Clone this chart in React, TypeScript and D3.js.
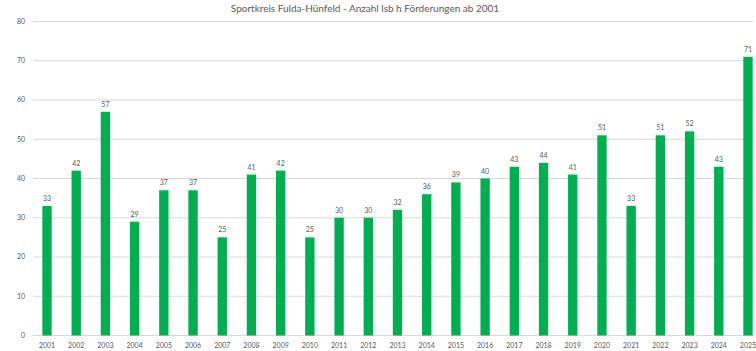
import * as React from 'react'
import { useEffect, useRef } from 'react'
import * as d3 from 'd3'

const years = [
  '2001', '2002', '2003', '2004', '2005', '2006', '2007', '2008', '2009', '2010',
  '2011', '2012', '2013', '2014', '2015', '2016', '2017', '2018', '2019', '2020',
  '2021', '2022', '2023', '2024', '2025',
]
const counts = [33, 42, 57, 29, 37, 37, 25, 41, 42, 25, 30, 30, 32, 36, 39, 40, 43, 44, 41, 51, 33, 51, 52, 43, 71]
const yTicks = [0, 10, 20, 30, 40, 50, 60, 70, 80]
const title = 'Sportkreis Fulda-Hünfeld - Anzahl lsb h Förderungen ab 2001'

const W = 756
const H = 351

export default function App() {
  const svgRef = useRef<SVGSVGElement>(null)

  useEffect(() => {
    if (!svgRef.current) return
    const svg = d3.select(svgRef.current)
    svg.selectAll('*').remove()

    const font = 'Lato, "Open Sans", sans-serif'
    const textColor = '#595959'

    const x = d3.scaleBand<string>()
      .domain(years)
      .range([32.4, 762.6])
      .paddingInner(0.68)
      .paddingOuter(0.34)

    const y = d3.scaleLinear().domain([0, 80]).range([335.5, 21.5])

    // gridlines
    svg.append('g')
      .selectAll('line')
      .data(yTicks)
      .join('line')
      .attr('x1', 33)
      .attr('x2', 753)
      .attr('y1', d => y(d))
      .attr('y2', d => y(d))
      .attr('stroke', '#d9d9d9')
      .attr('stroke-width', 1)

    // y labels
    svg.append('g')
      .selectAll('text')
      .data(yTicks)
      .join('text')
      .attr('x', 25)
      .attr('y', d => y(d))
      .attr('dy', '0.35em')
      .attr('text-anchor', 'end')
      .attr('font-family', font)
      .attr('font-size', 7)
      .attr('fill', textColor)
      .text(d => d)

    // bars
    svg.append('g')
      .selectAll('rect')
      .data(counts)
      .join('rect')
      .attr('x', (_, i) => x(years[i]) as number)
      .attr('width', x.bandwidth())
      .attr('y', d => y(d))
      .attr('height', d => y(0) - y(d))
      .attr('fill', '#00b050')

    // value labels
    svg.append('g')
      .selectAll('text')
      .data(counts)
      .join('text')
      .attr('x', (_, i) => (x(years[i]) as number) + x.bandwidth() / 2)
      .attr('y', d => y(d) - 5)
      .attr('text-anchor', 'middle')
      .attr('font-family', font)
      .attr('font-size', 7)
      .attr('fill', textColor)
      .text(d => d)

    // x labels
    svg.append('g')
      .selectAll('text')
      .data(years)
      .join('text')
      .attr('x', d => (x(d) as number) + x.bandwidth() / 2)
      .attr('y', 348)
      .attr('text-anchor', 'middle')
      .attr('font-family', font)
      .attr('font-size', 7)
      .attr('fill', textColor)
      .text(d => d)

    // title
    svg.append('text')
      .attr('x', 365)
      .attr('y', 12)
      .attr('text-anchor', 'middle')
      .attr('font-family', font)
      .attr('font-size', 10)
      .attr('fill', textColor)
      .text(title)
  }, [])

  return (
    <svg
      ref={svgRef}
      width={W}
      height={H}
      style={{ position: 'absolute', left: 0, top: 0, display: 'block', background: '#fff' }}
    />
  )
}
